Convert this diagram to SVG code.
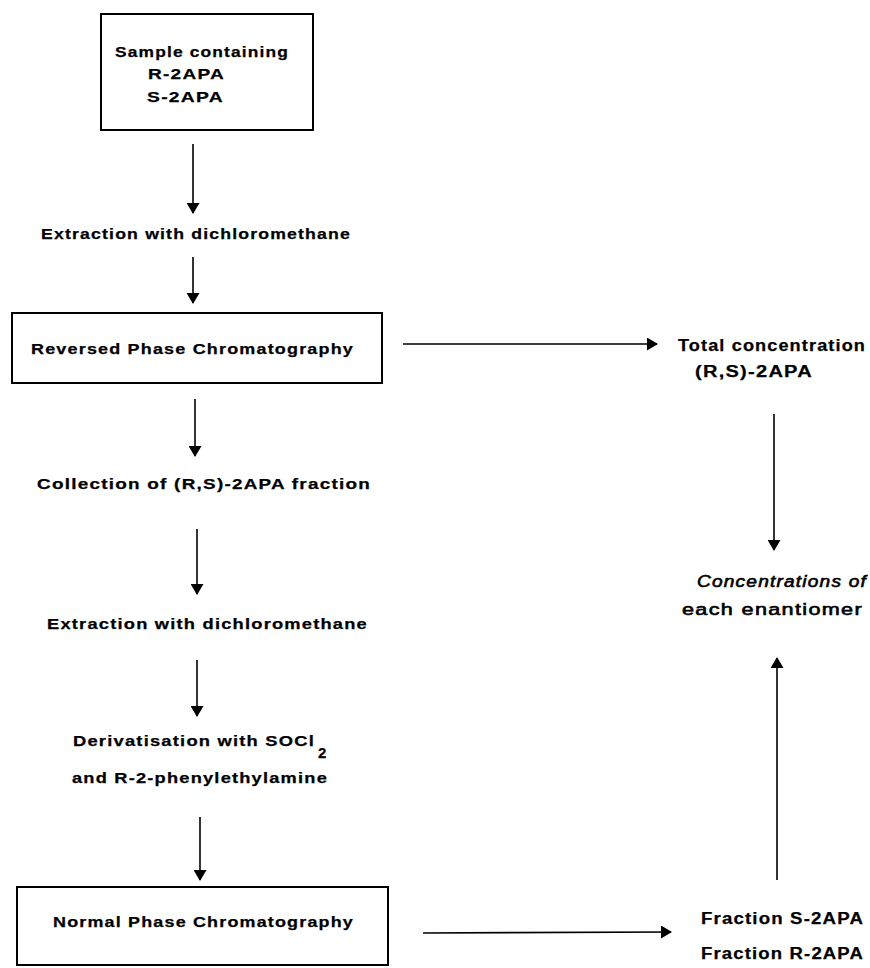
<svg xmlns="http://www.w3.org/2000/svg" width="870" height="968" viewBox="0 0 870 968">
<defs>
<marker id="ah" markerUnits="userSpaceOnUse" markerWidth="11" markerHeight="13" refX="10" refY="6.5" orient="auto">
<path d="M0,0 L11,6.5 L0,13 z" fill="#000"/>
</marker>
<style>
.box{fill:none;stroke:#000;stroke-width:2}
.t{font-family:"Liberation Sans",Arial,sans-serif;font-weight:bold;font-size:15px;letter-spacing:1px;fill:#000;stroke:#000;stroke-width:0.25}
.s{font-size:15px}
.b{font-size:16px}
.it{font-style:italic;font-weight:normal;stroke-width:0.6}
.n{font-weight:normal;stroke-width:0.6}
.c{fill:none;stroke:#000;stroke-width:1.6;marker-end:url(#ah)}
</style>
</defs>
<rect width="870" height="968" fill="#fff"/>
<g id="sample">
<rect class="box" x="101" y="14" width="212" height="116"/>
<text class="t s" x="115" y="57" textLength="174" lengthAdjust="spacingAndGlyphs">Sample containing</text>
<text class="t s" x="148" y="79" textLength="77" lengthAdjust="spacingAndGlyphs">R-2APA</text>
<text class="t s" x="147" y="102" textLength="77" lengthAdjust="spacingAndGlyphs">S-2APA</text>
</g>
<g id="extraction1">
<text class="t" x="41" y="239" textLength="310" lengthAdjust="spacingAndGlyphs">Extraction with dichloromethane</text>
</g>
<g id="reversed">
<rect class="box" x="12" y="313" width="370" height="70"/>
<text class="t" x="31" y="354" textLength="323" lengthAdjust="spacingAndGlyphs">Reversed Phase Chromatography</text>
</g>
<g id="total">
<text class="t b" x="678" y="351" textLength="188" lengthAdjust="spacingAndGlyphs">Total concentration</text>
<text class="t b" x="695" y="377" textLength="118" lengthAdjust="spacingAndGlyphs">(R,S)-2APA</text>
</g>
<g id="concentrations">
<text class="t b it" x="697" y="587" textLength="170" lengthAdjust="spacingAndGlyphs">Concentrations of</text>
<text class="t b n" x="682" y="615" textLength="181" lengthAdjust="spacingAndGlyphs">each enantiomer</text>
</g>
<g id="collection">
<text class="t" x="37" y="489" textLength="334" lengthAdjust="spacingAndGlyphs">Collection of (R,S)-2APA  fraction</text>
</g>
<g id="extraction2">
<text class="t" x="47" y="629" textLength="321" lengthAdjust="spacingAndGlyphs">Extraction with dichloromethane</text>
</g>
<g id="derivatisation">
<text class="t" x="73" y="746" textLength="242" lengthAdjust="spacingAndGlyphs">Derivatisation with SOCl</text>
<text class="t" x="318" y="758">2</text>
<text class="t" x="72" y="783" textLength="256" lengthAdjust="spacingAndGlyphs">and R-2-phenylethylamine</text>
</g>
<g id="normal">
<rect class="box" x="17" y="887" width="371" height="78"/>
<text class="t" x="53" y="927" textLength="301" lengthAdjust="spacingAndGlyphs">Normal Phase Chromatography</text>
</g>
<g id="fractions">
<text class="t b" x="701" y="924" textLength="163" lengthAdjust="spacingAndGlyphs">Fraction S-2APA</text>
<text class="t b" x="701" y="959" textLength="163" lengthAdjust="spacingAndGlyphs">Fraction R-2APA</text>
</g>
<g id="connectors">
<line class="c" x1="193" y1="144" x2="193" y2="213"/>
<line class="c" x1="193" y1="257" x2="193" y2="303"/>
<line class="c" x1="403" y1="344" x2="657" y2="344"/>
<line class="c" x1="774" y1="414" x2="774" y2="550"/>
<line class="c" x1="195" y1="399" x2="195" y2="456"/>
<line class="c" x1="197" y1="529" x2="197" y2="594"/>
<line class="c" x1="197" y1="660" x2="197" y2="716"/>
<line class="c" x1="200" y1="817" x2="200" y2="880"/>
<line class="c" x1="423" y1="933" x2="671" y2="932"/>
<line class="c" x1="777" y1="880" x2="777" y2="658"/>
</g>
</svg>
